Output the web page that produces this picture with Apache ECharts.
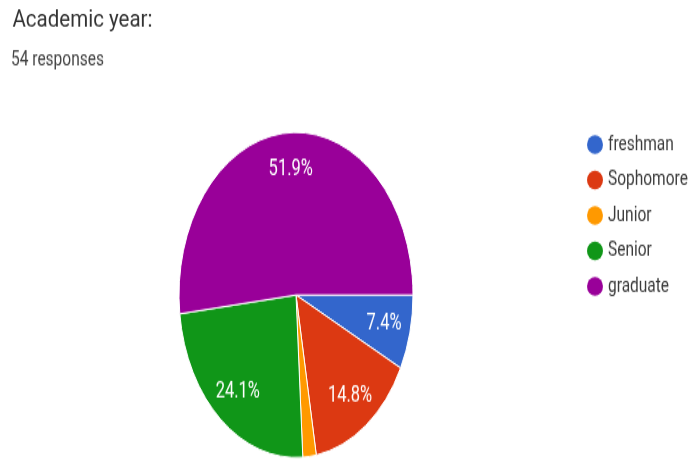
<!DOCTYPE html>
<html><head><meta charset="utf-8">
<script src="https://cdn.jsdelivr.net/npm/echarts@6/dist/echarts.min.js"></script>
<style>
html,body{margin:0;padding:0;background:#fff;overflow:hidden;width:690px;height:460px;}
#main{position:absolute;left:0;top:0;width:690px;height:331px;transform-origin:0 0;transform:scaleY(1.39);}
#head{position:absolute;left:0;top:0;width:690px;height:40px;transform-origin:0 0;transform:scaleY(1.16);}
</style></head><body>
<div id="main"></div><div id="head"></div>
<script>
const titleText = 'Academic year:';
const subtitleText = '54 responses';
const categories = ['freshman', 'Sophomore', 'Junior', 'Senior', 'graduate'];
const responses = [4, 8, 1, 13, 28];
const colors = ['#3366cc', '#dc3912', '#ff9900', '#109618', '#990099'];

const total = responses.reduce((a, b) => a + b, 0);
const pieData = categories.map((c, i) => ({ name: c, value: responses[i] }));
const FONT = 'Roboto, "Noto Sans", sans-serif';

const head = echarts.init(document.getElementById('head'));
head.setOption({
  animation: false,
  title: {
    text: titleText, left: 12.5, top: 7.5, padding: 0,
    textStyle: { fontFamily: FONT, fontSize: 20.5, fontWeight: 'normal', color: '#333' }
  }
});

const chart = echarts.init(document.getElementById('main'));
chart.setOption({
  animation: false,
  color: colors,
  title: {
    text: subtitleText, left: 11, top: 35.6, padding: 0,
    textStyle: { fontFamily: FONT, fontSize: 15.5, fontWeight: 'normal', color: '#444' }
  },
  legend: {
    data: categories, orient: 'vertical', left: 587, top: 96, padding: 0,
    icon: 'path://M50,0A50,50,0,1,1,50,100A50,50,0,1,1,50,0Z',
    symbolKeepAspect: false,
    itemWidth: 16, itemHeight: 13.5, itemGap: 9.5,
    itemStyle: { borderWidth: 0 },
    selectedMode: false,
    textStyle: { fontFamily: FONT, fontSize: 15.5, color: '#3c3c3c' }
  },
  series: [
    {
      type: 'pie', center: [296, 212.2], radius: [0, 117],
      startAngle: 0, clockwise: true,
      data: pieData,
      itemStyle: { borderColor: '#fff', borderWidth: 1 },
      label: { show: false }, labelLine: { show: false },
      emphasis: { scale: false }
    },
    {
      type: 'pie', center: [296, 212.2], radius: [58, 117],
      startAngle: 0, clockwise: true, silent: true,
      data: pieData,
      itemStyle: { color: 'rgba(0,0,0,0)', borderWidth: 0 },
      label: {
        show: true, position: 'inside', color: '#fff',
        fontFamily: FONT, fontSize: 16.5,
        formatter: p => {
          const pct = p.value / total * 100;
          return pct < 5 ? '' : pct.toFixed(1) + '%';
        }
      },
      labelLine: { show: false },
      emphasis: { scale: false }
    }
  ]
});
</script>
</body></html>
